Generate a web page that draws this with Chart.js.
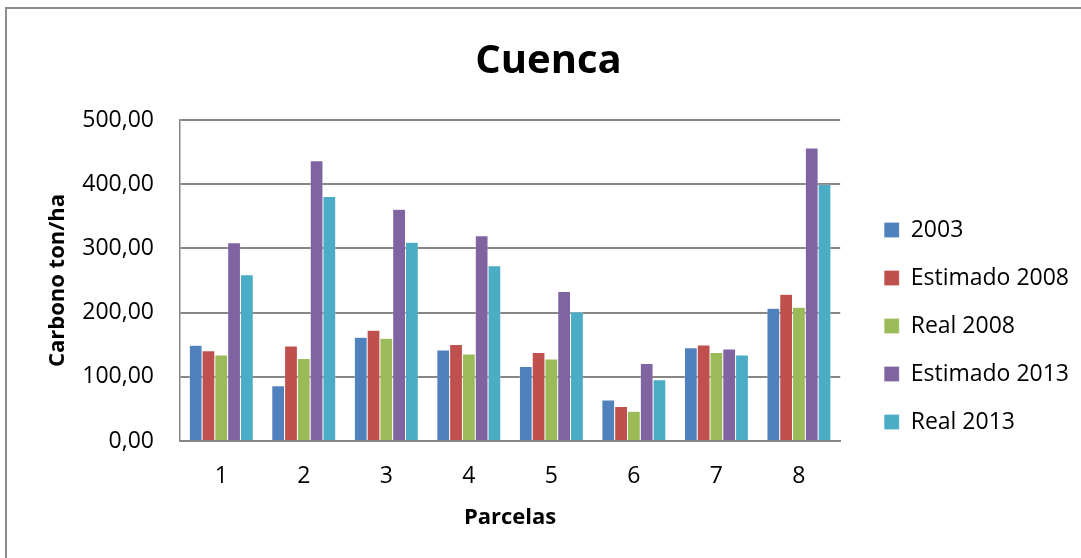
<!DOCTYPE html>
<html>
<head>
<meta charset="utf-8">
<script src="https://cdn.jsdelivr.net/npm/chart.js@4"></script>
<style>
  html, body { margin: 0; padding: 0; background: #fff; }
  #wrap { width: 1081px; height: 558px; }
</style>
</head>
<body>
<div id="wrap"><canvas id="cuencaChart" width="1081" height="558"></canvas></div>
<script>
// Datos
const parcelas = ["1", "2", "3", "4", "5", "6", "7", "8"];
const serie2003 = [149, 86, 161.5, 141.7, 116, 64, 145.3, 206.8];
const estimado2008 = [140.6, 147.9, 172.4, 150.5, 138, 53.6, 149.5, 228.6];
const real2008 = [133.9, 128.6, 159.9, 135.4, 127.6, 46.4, 138, 208.3];
const estimado2013 = [308.9, 436.5, 360.9, 319.8, 232.8, 120.8, 143.2, 456.3];
const real2013 = [258.9, 380.7, 309.4, 272.9, 201, 95.3, 133.9, 399.5];

const fuente = "'Open Sans', sans-serif";

// borde exterior del gráfico (sólo se ven el lado izquierdo y el superior)
const bordePlugin = {
    id: "borde",
    afterDraw(chart) {
        const ctx = chart.ctx;
        ctx.save();
        ctx.strokeStyle = "#8c8c8c";
        ctx.lineWidth = 2;
        ctx.strokeRect(6, 8, 1200, 700);
        ctx.restore();
    }
};

function serie(label, data, color) {
    return {
        label: label,
        data: data,
        backgroundColor: color,
        borderColor: "rgba(255,255,255,0.6)",
        borderWidth: { left: 0.5, right: 0.5, top: 0.5, bottom: 0 },
        categoryPercentage: 0.775,
        barPercentage: 1
    };
}

new Chart(document.getElementById("cuencaChart"), {
    type: "bar",
    data: {
        labels: parcelas,
        datasets: [
            serie("2003", serie2003, "#4f81bd"),
            serie("Estimado 2008", estimado2008, "#c0504d"),
            serie("Real 2008", real2008, "#9bbb59"),
            serie("Estimado 2013", estimado2013, "#8064a2"),
            serie("Real 2013", real2013, "#4bacc6")
        ]
    },
    options: {
        responsive: false,
        animation: false,
        layout: { padding: { left: 18, right: 2, top: 18, bottom: 23 } },
        plugins: {
            title: {
                display: true,
                text: "Cuenca",
                color: "#000",
                font: { family: fuente, size: 40, weight: "bold" },
                padding: { top: 20, bottom: 34 }
            },
            legend: {
                position: "right",
                align: "center",
                maxWidth: 260,
                title: {
                    display: true,
                    text: " ",
                    font: { size: 10 },
                    padding: { top: 0, bottom: 87 }
                },
                labels: {
                    color: "#000",
                    boxWidth: 15,
                    boxHeight: 15,
                    padding: 25,
                    font: { family: fuente, size: 23 }
                }
            },
            tooltip: { enabled: false }
        },
        scales: {
            x: {
                grid: { display: false },
                border: { color: "#868686", width: 2 },
                ticks: { color: "#000", font: { family: fuente, size: 23 }, padding: 14 },
                title: {
                    display: true,
                    text: "Parcelas",
                    color: "#000",
                    font: { family: fuente, size: 22, weight: "bold" },
                    padding: { top: 0 }
                }
            },
            y: {
                min: 0,
                max: 500,
                afterFit(scale) { scale.width = 162; },
                grid: { color: "#868686", lineWidth: 2, drawTicks: false },
                border: { color: "#868686", width: 1.5 },
                ticks: {
                    stepSize: 100,
                    color: "#000",
                    padding: 26,
                    font: { family: fuente, size: 23 },
                    callback: v => v.toFixed(2).replace(".", ",")
                },
                title: {
                    display: true,
                    text: "Carbono ton/ha",
                    color: "#000",
                    font: { family: fuente, size: 22, weight: "bold" },
                    padding: { top: 27, bottom: 4 }
                }
            },
            // eje vacío: solo deja el hueco entre el área y la leyenda
            hueco: {
                position: "right",
                afterFit(scale) { scale.width = 19; },
                grid: { display: false, drawOnChartArea: false },
                border: { display: false },
                ticks: { display: false }
            }
        }
    },
    plugins: [bordePlugin]
});
</script>
</body>
</html>
